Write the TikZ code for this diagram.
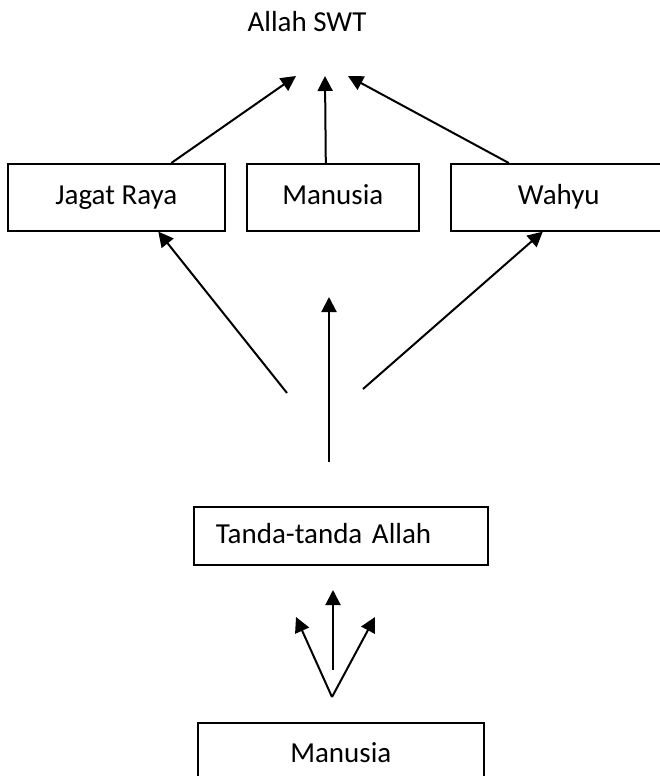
\documentclass[tikz,border=0pt]{standalone}
\usepackage{fontspec}
\setmainfont{Carlito}
\usetikzlibrary{arrows.meta}

\begin{document}
\begin{tikzpicture}[x=1pt,y=-1pt,
	kotak/.style={draw,line width=1.6pt,minimum height=67pt,inner sep=0pt,text height=20pt,text depth=5pt,anchor=north west},
	panah/.style={line width=2pt,-{Triangle[length=15pt,width=15pt]}},
	font=\fontsize{29}{35}\selectfont]
	\useasboundingbox (0,0) rectangle (660,776);
	\node[anchor=base] (allah) at (307,32) {Allah SWT};
	\node[kotak,minimum width=217pt] (jagat) at (7,163) {Jagat Raya};
	\node[kotak,minimum width=172pt] (manusia) at (246,163) {Manusia};
	\node[kotak,minimum width=216pt] (wahyu) at (450,163) {Wahyu};
	\node[kotak,minimum height=58pt,text width=250pt,inner xsep=22pt,align=left] (tanda) at (193,506) {Tanda-tanda Allah};
	\node[kotak,minimum width=286pt,minimum height=64pt] (insan) at (197,722) {Manusia};
	% ujung panah yang bebas
	\coordinate (t1) at (296,76);
	\coordinate (t2) at (325,76);
	\coordinate (t3) at (348,76);
	\coordinate (m1) at (287,393);
	\coordinate (m2a) at (329,462);
	\coordinate (m2b) at (329,297);
	\coordinate (m3) at (363,389);
	\coordinate (v0) at (332,697);
	\coordinate (v1) at (296,617);
	\coordinate (v2a) at (333,670);
	\coordinate (v2b) at (333,590);
	\coordinate (v3) at (375,617);
	\draw[panah] ([xshift=55pt]jagat.north) -- (t1);
	\draw[panah] ([xshift=-7pt]manusia.north) -- (t2);
	\draw[panah] ([xshift=-50pt]wahyu.north) -- (t3);
	\draw[panah] (m1) -- ([xshift=42pt]jagat.south);
	\draw[panah] (m2a) -- (m2b);
	\draw[panah] (m3) -- ([xshift=-16pt]wahyu.south);
	\draw[panah] (v0) -- (v1);
	\draw[panah] (v2a) -- (v2b);
	\draw[panah] (v0) -- (v3);
\end{tikzpicture}
\end{document}
